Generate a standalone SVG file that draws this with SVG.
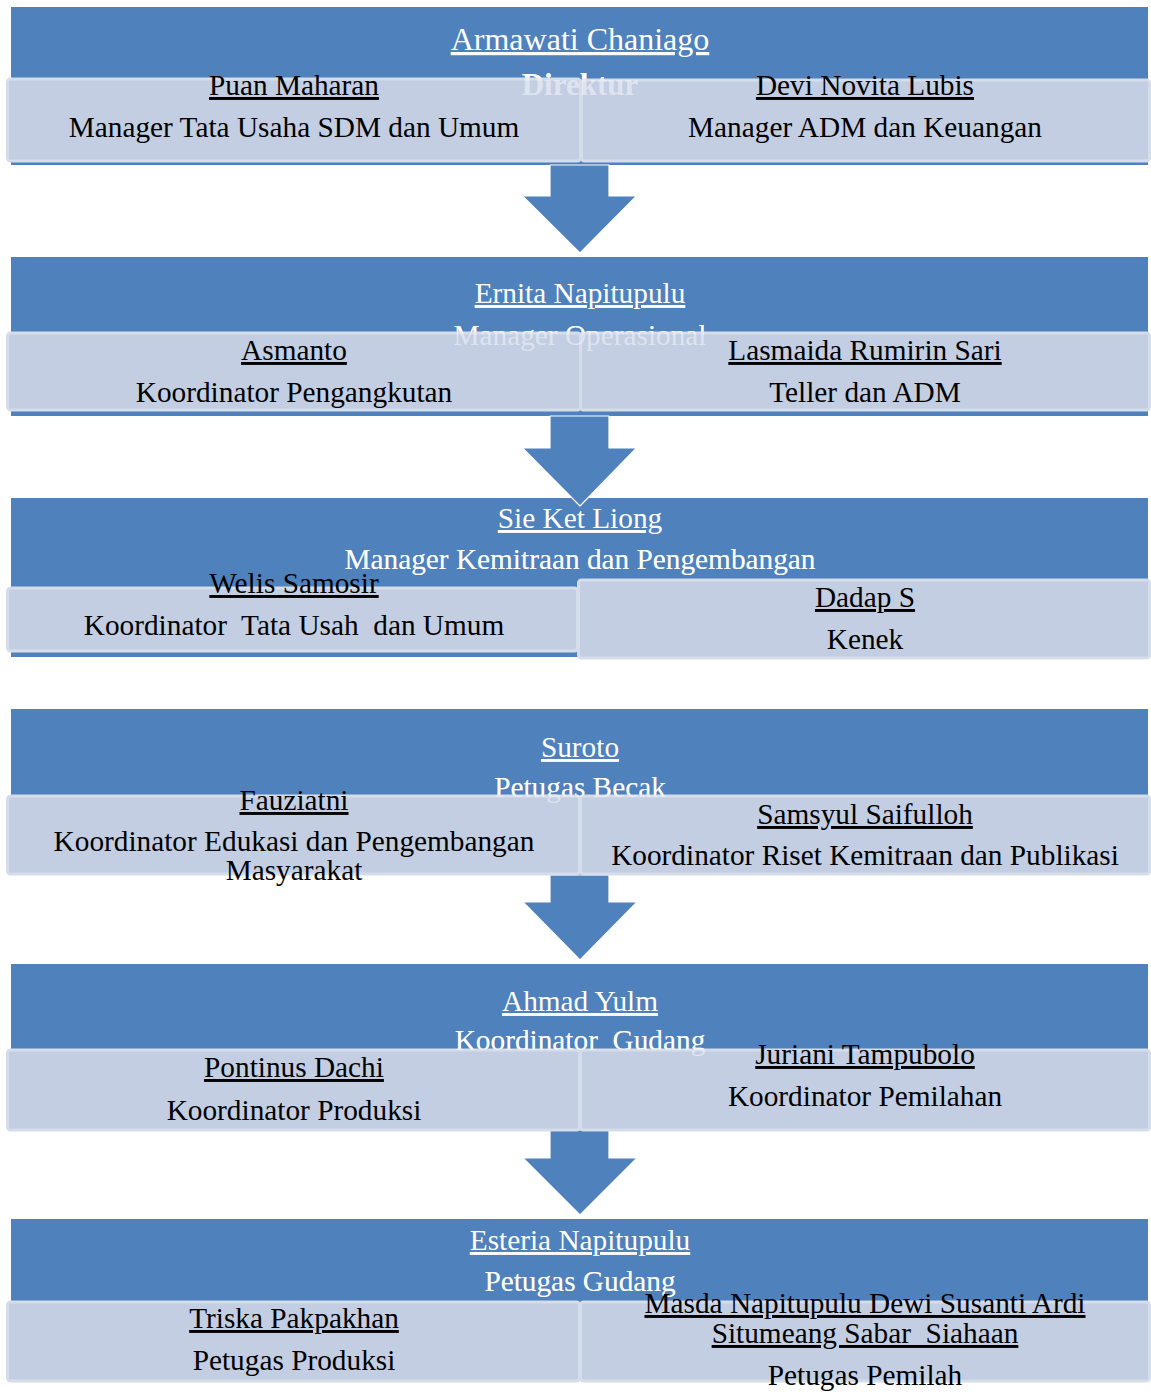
<svg xmlns="http://www.w3.org/2000/svg" width="1151" height="1392" viewBox="0 0 1151 1392">
<style>
.band{fill:#4f81bd}
.box{fill:#c3cee3;stroke:#d5dcea;stroke-width:3}
.arrow{fill:#4f81bd;stroke:#ffffff;stroke-width:1.2;stroke-linejoin:round}
text{font-family:"Liberation Serif","Times New Roman",serif;text-anchor:middle;font-size:29.3px}
.wn{fill:#ffffff;text-decoration:underline}
.wt{fill:#ffffff}
.ov{fill:#ffffff;fill-opacity:0.45}
.bn{fill:#000000;text-decoration:underline}
.bt{fill:#000000}
.big{font-size:32px}
.bold{font-weight:bold;font-size:31px}
</style>
<rect x="0" y="0" width="1151" height="1392" fill="#ffffff"/>
<g id="bands">
<rect id="band1-bg" class="band" x="11" y="7" width="1137" height="158"/>
<rect id="band2-bg" class="band" x="11" y="257" width="1137" height="159"/>
<rect id="band3-bg" class="band" x="11" y="498" width="1137" height="159"/>
<rect id="band4-bg" class="band" x="11" y="709" width="1137" height="166"/>
<rect id="band5-bg" class="band" x="11" y="964" width="1137" height="166"/>
<rect id="band6-bg" class="band" x="11" y="1219" width="1137" height="162"/>
</g>
<g id="connectors">
<path class="arrow" d="M550,165 L609,165 L609,196 L636.5,196 L580,253 L522.5,196 L550,196 Z"/>
<path class="arrow" d="M550,416 L609,416 L609,448 L636.5,448 L580,506 L522.5,448 L550,448 Z"/>
<path class="arrow" d="M550,875 L609,875 L609,902 L637,902 L580,960 L523,902 L550,902 Z"/>
<path class="arrow" d="M550,1130 L609,1130 L609,1158 L637,1158 L580,1215 L523,1158 L550,1158 Z"/>
</g>
<g id="band-texts">
<text class="wn big" x="580" y="50">Armawati Chaniago</text>
<text class="wt bold" x="580" y="95">Direktur</text>
<text class="wn" x="580" y="303">Ernita Napitupulu</text>
<text class="wt" x="580" y="345">Manager Operasional</text>
<text class="wn" x="580" y="528">Sie Ket Liong</text>
<text class="wt" x="580" y="569">Manager Kemitraan dan Pengembangan</text>
<text class="wn" x="580" y="757">Suroto</text>
<text class="wt" x="580" y="797">Petugas Becak</text>
<text class="wn" x="580" y="1011">Ahmad Yulm</text>
<text class="wt" x="580" y="1050" xml:space="preserve">Koordinator  Gudang</text>
<text class="wn" x="580" y="1250">Esteria Napitupulu</text>
<text class="wt" x="580" y="1291">Petugas Gudang</text>
</g>
<g id="node-puan"><rect class="box" x="7.5" y="79" width="573" height="82" rx="3"/></g>
<g id="node-devi"><rect class="box" x="581.5" y="80" width="568" height="81" rx="3"/></g>
<g id="node-asmanto"><rect class="box" x="7.5" y="333" width="573" height="77" rx="3"/></g>
<g id="node-lasmaida"><rect class="box" x="580.5" y="333" width="569" height="77" rx="3"/></g>
<g id="node-welis"><rect class="box" x="7.5" y="588" width="570" height="63" rx="3"/></g>
<g id="node-dadap"><rect class="box" x="578.5" y="580" width="571" height="78" rx="3"/></g>
<g id="node-fauziatni"><rect class="box" x="7.5" y="796" width="572" height="78" rx="3"/></g>
<g id="node-samsyul"><rect class="box" x="580.5" y="796" width="569" height="78" rx="3"/></g>
<g id="node-pontinus"><rect class="box" x="7.5" y="1050" width="572" height="80" rx="3"/></g>
<g id="node-juriani"><rect class="box" x="580.5" y="1050" width="569" height="80" rx="3"/></g>
<g id="node-triska"><rect class="box" x="7.5" y="1302" width="572" height="79" rx="3"/></g>
<g id="node-masda"><rect class="box" x="580.5" y="1302" width="569" height="79" rx="3"/></g>
<g id="overlap-texts">
<text class="ov bold" x="580" y="95">Direktur</text>
<text class="ov" x="580" y="345">Manager Operasional</text>
<text class="ov" x="580" y="569">Manager Kemitraan dan Pengembangan</text>
<text class="ov" x="580" y="797">Petugas Becak</text>
<text class="ov" x="580" y="1050" xml:space="preserve">Koordinator  Gudang</text>
<text class="ov" x="580" y="1291">Petugas Gudang</text>
</g>
<g id="box-texts">
<text class="bn" x="294" y="95">Puan Maharan</text>
<text class="bt" x="294" y="137">Manager Tata Usaha SDM dan Umum</text>
<text class="bn" x="865" y="95">Devi Novita Lubis</text>
<text class="bt" x="865" y="137">Manager ADM dan Keuangan</text>
<text class="bn" x="294" y="360">Asmanto</text>
<text class="bt" x="294" y="402">Koordinator Pengangkutan</text>
<text class="bn" x="865" y="360">Lasmaida Rumirin Sari</text>
<text class="bt" x="865" y="402">Teller dan ADM</text>
<text class="bn" x="294" y="593">Welis Samosir</text>
<text class="bt" x="294" y="635" xml:space="preserve">Koordinator  Tata Usah  dan Umum</text>
<text class="bn" x="865" y="607">Dadap S</text>
<text class="bt" x="865" y="649">Kenek</text>
<text class="bn" x="294" y="810">Fauziatni</text>
<text class="bt" x="294" y="851">Koordinator Edukasi dan Pengembangan</text>
<text class="bt" x="294" y="880">Masyarakat</text>
<text class="bn" x="865" y="824">Samsyul Saifulloh</text>
<text class="bt" x="865" y="865">Koordinator Riset Kemitraan dan Publikasi</text>
<text class="bn" x="294" y="1077">Pontinus Dachi</text>
<text class="bt" x="294" y="1120">Koordinator Produksi</text>
<text class="bn" x="865" y="1064">Juriani Tampubolo</text>
<text class="bt" x="865" y="1106">Koordinator Pemilahan</text>
<text class="bn" x="294" y="1328">Triska Pakpakhan</text>
<text class="bt" x="294" y="1370">Petugas Produksi</text>
<text class="bn" x="865" y="1313">Masda Napitupulu Dewi Susanti Ardi</text>
<text class="bn" x="865" y="1343" xml:space="preserve">Situmeang Sabar  Siahaan</text>
<text class="bt" x="865" y="1385">Petugas Pemilah</text>
</g>
</svg>
